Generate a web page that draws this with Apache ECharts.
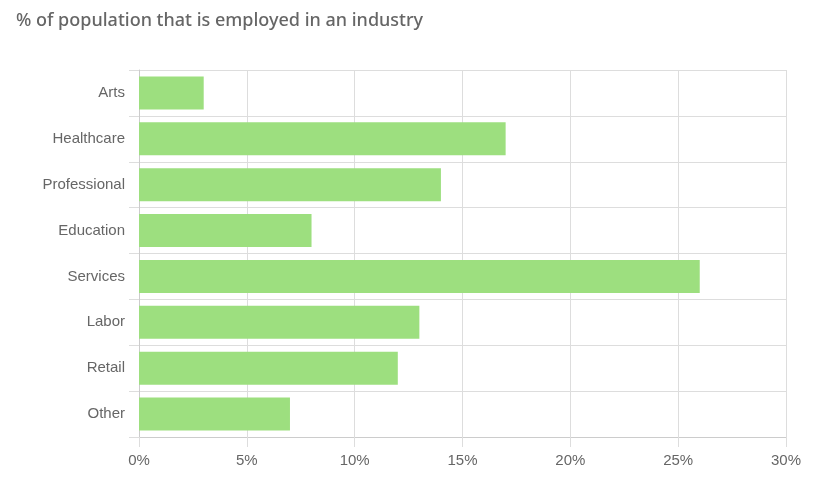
<!DOCTYPE html>
<html>
<head>
<meta charset="utf-8">
<script src="https://cdn.jsdelivr.net/npm/echarts@6/dist/echarts.min.js"></script>
<style>html,body{margin:0;padding:0;background:#fff}#c{width:821px;height:482px}</style>
</head>
<body>
<div id="c"></div>
<script>
const categories = ["Arts", "Healthcare", "Professional", "Education", "Services", "Labor", "Retail", "Other"];
const values = [3, 17, 14, 8, 26, 13, 12, 7];
const xTicks = [0, 5, 10, 15, 20, 25, 30];

const chart = echarts.init(document.getElementById('c'), null, {renderer: 'canvas'});
chart.setOption({
  animation: false,
  title: {
    text: '% of population that is employed in an industry',
    left: 16, top: 12, padding: 0,
    textStyle: {fontFamily: 'Noto Sans', fontSize: 18, fontWeight: 500, color: '#666'}
  },
  grid: {left: 139, right: 35, top: 70, bottom: 45, containLabel: false},
  xAxis: {
    type: 'value', min: xTicks[0], max: xTicks[xTicks.length - 1], interval: 5,
    axisLine: {show: true, lineStyle: {color: '#ccc'}},
    axisTick: {show: true, length: 10, lineStyle: {color: '#ddd'}},
    splitLine: {show: true, lineStyle: {color: '#ddd'}},
    axisLabel: {formatter: '{value}%', color: '#666', fontSize: 15, fontFamily: 'Liberation Sans', margin: 16}
  },
  yAxis: {
    type: 'category', data: categories, inverse: true,
    axisLine: {show: true, lineStyle: {color: '#ccc'}},
    axisTick: {show: true, length: 10, lineStyle: {color: '#ddd'}},
    splitLine: {show: true, lineStyle: {color: '#ddd'}},
    axisLabel: {color: '#666', fontSize: 15, fontFamily: 'Liberation Sans', margin: 14}
  },
  series: [{
    type: 'bar', data: values, barWidth: 33,
    itemStyle: {color: '#9ddf7f'}
  }]
});
</script>
</body>
</html>
